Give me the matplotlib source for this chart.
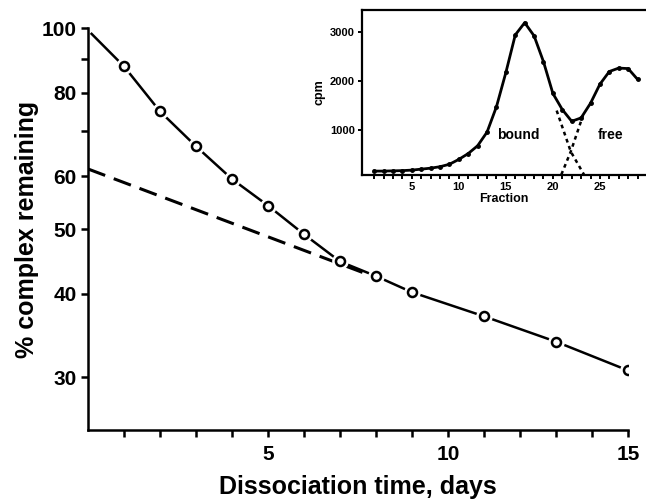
import matplotlib
matplotlib.use("Agg")
import matplotlib.pyplot as plt
from matplotlib.ticker import NullFormatter, FixedLocator, FixedFormatter

plt.rcParams['font.family'] = ['Liberation Sans', 'DejaVu Sans']

# main plot: dissociation of the complex
days = [1, 2, 3, 4, 5, 6, 7, 8, 9, 11, 13, 15]
pct_remaining = [87.6, 75.0, 66.5, 59.4, 54.2, 49.1, 44.7, 42.5, 40.2, 37.0, 33.9, 30.7]
# drawn fit through the points (starts at the y axis)
fit_days = [0.1] + days
fit_pct = [98.0] + pct_remaining
# extrapolated slow component
slow_days = [0, 8]
slow_pct = [61.5, 42.3]

y_ticks = [30, 40, 50, 60, 80, 100]
y_minor = [70, 90]
x_labeled = [5, 10, 15]

# inset: column profile
fraction = list(range(1, 30))
cpm = [160, 160, 165, 170, 180, 200, 220, 250, 300, 400, 520, 680, 960, 1480,
       2180, 2950, 3200, 2930, 2400, 1750, 1420, 1180, 1250, 1550, 1940, 2200,
       2270, 2260, 2040]
bound_tail_x = [20.4, 21.9, 23.3]
bound_tail_y = [1400, 560, 90]
free_lead_x = [20.9, 21.9, 23.2]
free_lead_y = [90, 560, 1300]

fig = plt.figure(figsize=(6.46, 5.01), dpi=100)
ax = fig.add_axes([88/646, 71/501, 540/646, 402/501])

ax.plot(slow_days, slow_pct, color='black', lw=2.2, dashes=(6, 3), zorder=2)
ax.plot(fit_days, fit_pct, color='black', lw=1.8, zorder=3)
ax.plot(days, pct_remaining, 'o', ms=11, mfc='white', mec='white', zorder=4)
ax.plot(days, pct_remaining, 'o', ms=6.5, mfc='white', mec='black', mew=1.8, zorder=5)

ax.set_yscale('log')
ax.set_ylim(25, 100)
ax.set_xlim(0, 15)
ax.yaxis.set_major_locator(FixedLocator(y_ticks))
ax.yaxis.set_minor_locator(FixedLocator(y_minor))
ax.yaxis.set_major_formatter(FixedFormatter([str(v) for v in y_ticks]))
ax.yaxis.set_minor_formatter(NullFormatter())
ax.set_xticks(x_labeled)
ax.set_xticks(range(1, 16), minor=True)
for s in ['top', 'right']:
    ax.spines[s].set_visible(False)
for s in ['left', 'bottom']:
    ax.spines[s].set_linewidth(1.8)
ax.tick_params(which='both', direction='out', length=5, width=1.8, labelsize=15, pad=3)
ax.tick_params(axis='x', pad=6)
for lbl in ax.get_xticklabels() + ax.get_yticklabels():
    lbl.set_fontweight('bold')
ax.set_xlabel('Dissociation time, days', fontsize=18, fontweight='bold', labelpad=8)
ax.set_ylabel('% complex remaining', fontsize=18, fontweight='bold', labelpad=2)

# inset
ins = fig.add_axes([362/646, 326/501, 284/646, 165/501])
ins.plot(fraction, cpm, color='black', lw=2.0, marker='o', ms=2.5)
ins.plot(bound_tail_x, bound_tail_y, color='black', lw=1.8, dashes=(1.5, 1.5))
ins.plot(free_lead_x, free_lead_y, color='black', lw=1.8, dashes=(1.5, 1.5))
ins.set_xlim(-0.3, 29.9)
ins.set_ylim(80, 3460)
ins.set_xticks([5, 10, 15, 20, 25])
ins.set_xticks(range(1, 30), minor=True)
ins.set_yticks([1000, 2000, 3000])
ins.spines['right'].set_visible(False)
for s in ['left', 'bottom', 'top']:
    ins.spines[s].set_linewidth(1.6)
ins.tick_params(which='both', direction='out', length=3, width=1.4, labelsize=8, pad=2)
for lbl in ins.get_xticklabels() + ins.get_yticklabels():
    lbl.set_fontweight('bold')
ins.set_xlabel('Fraction', fontsize=9, fontweight='bold', labelpad=1)
ins.set_ylabel('cpm', fontsize=9, fontweight='bold', labelpad=3)
ins.text(16.3, 900, 'bound', fontsize=10, fontweight='bold', ha='center', va='center')
ins.text(26.1, 900, 'free', fontsize=10, fontweight='bold', ha='center', va='center')

fig.savefig('out.png', dpi=100)
